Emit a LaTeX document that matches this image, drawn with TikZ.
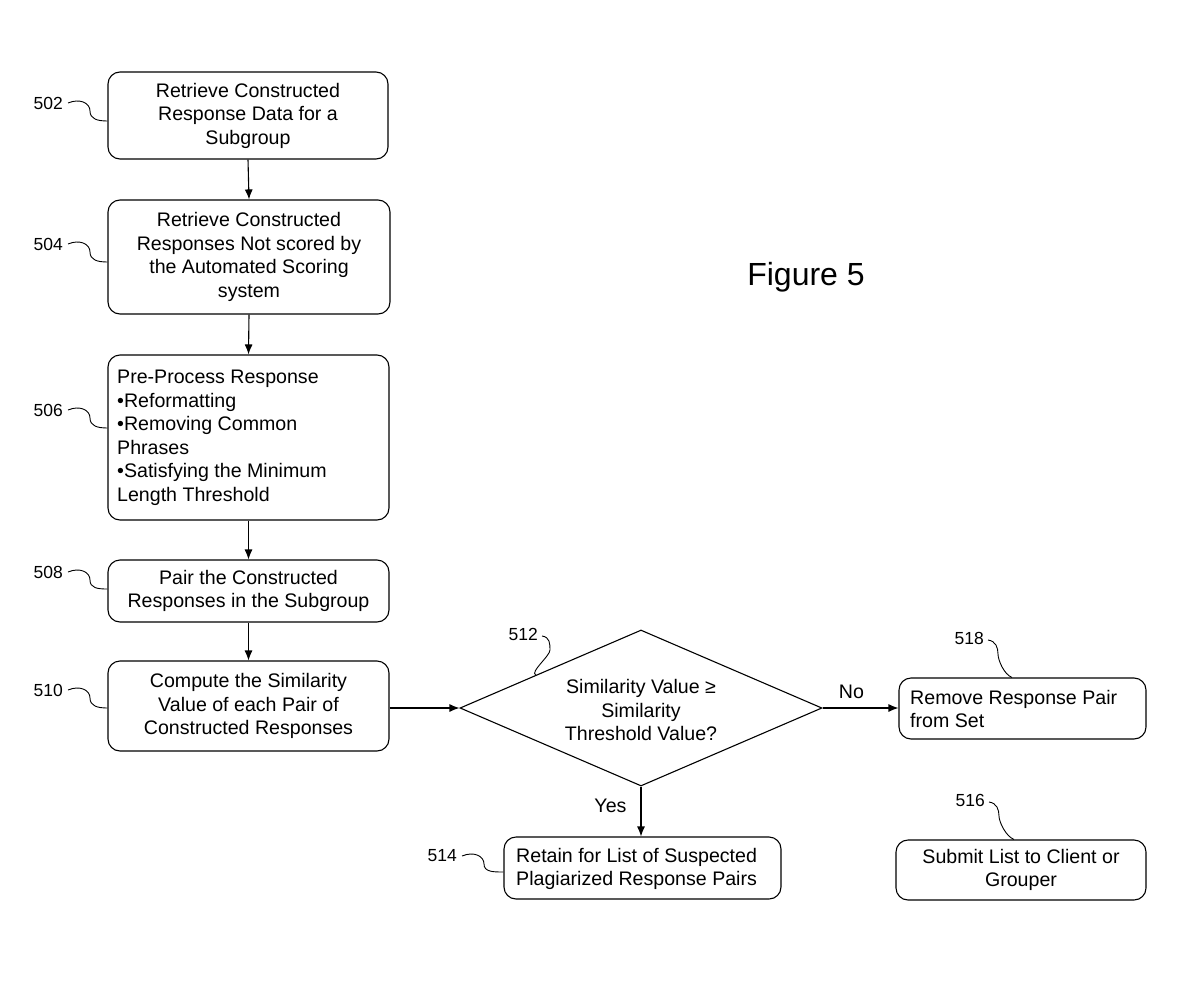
\documentclass[tikz,border=0pt]{standalone}
\usepackage{fontspec}
\setmainfont{Liberation Sans}
\usetikzlibrary{shapes.geometric,arrows.meta,calc}
\begin{document}
\begin{tikzpicture}[x=1pt,y=-1pt,
  font=\fontsize{19.6}{23.5}\selectfont,
  every node/.style={inner sep=0pt},
  box/.style={draw,rounded corners=12pt,line width=1.1pt},
  lab/.style={anchor=east,font=\fontsize{17.5}{21}\selectfont},
  lead/.style={line width=0.9pt},
  arr/.style={line width=1.1pt,-{Latex[length=10pt,width=8pt]}},
  dec/.style={draw,diamond,line width=1.1pt,minimum width=362pt,minimum height=156pt,inner sep=0pt}
]
\useasboundingbox (0,0) rectangle (1199,982);

% boxes
\node[box,minimum width=280pt,minimum height=87pt,align=center] (b502) at (248,115.5)
  {Retrieve Constructed\\Response Data for a\\Subgroup};
\node[box,minimum width=282pt,minimum height=114pt,align=center] (b504) at (249,257)
  {Retrieve Constructed\\Responses Not scored by\\the Automated Scoring\\system};
\node[box,minimum width=281pt,minimum height=165pt] (b506) at (248.5,437.5) {};
\node[anchor=west,align=left] (t506) at (117,438)
  {Pre-Process Response\\•Reformatting\\•Removing Common\\Phrases\\•Satisfying the Minimum\\Length Threshold};
\node[box,minimum width=281pt,minimum height=62pt,align=center] (b508) at (248.5,591)
  {Pair the Constructed\\Responses in the Subgroup};
\node[box,minimum width=281pt,minimum height=90pt,align=center] (b510) at (248.5,706)
  {Compute the Similarity\\Value of each Pair of\\Constructed Responses};
\node[dec] (d512) at (641,708) {};
\node[align=center] (t512) at (641,710) {Similarity Value ≥\\Similarity\\Threshold Value?};
\node[box,minimum width=247pt,minimum height=61pt] (b518) at (1022.5,708.5) {};
\node[anchor=west,align=left] (t518) at (910,709) {Remove Response Pair\\from Set};
\node[box,minimum width=250pt,minimum height=60pt,align=center] (b516) at (1021,870)
  {Submit List to Client or\\Grouper};
\node[box,minimum width=277pt,minimum height=62pt] (b514) at (642.5,868) {};
\node[anchor=west,align=left] (t514) at (516,869) {Retain for List of Suspected\\Plagiarized Response Pairs};

\node[font=\fontsize{32}{36}\selectfont] (fig) at (806,277) {Figure 5};

% reference labels
\node[lab] (l502) at (63,103) {502};
\node[lab] (l504) at (63,244) {504};
\node[lab] (l506) at (63,410) {506};
\node[lab] (l508) at (63,572) {508};
\node[lab] (l510) at (63,690) {510};
\node[lab] (l514) at (457,856) {514};
\node[lab] (l512) at (538,634) {512};
\node[lab] (l518) at (984,638) {518};
\node[lab] (l516) at (985,800) {516};

% left leaders
\foreach \l/\b/\y in {l502/b502/121, l504/b504/262, l506/b506/428, l508/b508/589, l510/b510/708, l514/b514/872}{
  \draw[lead] ([xshift=5pt]\l.east) .. controls +(12,-5) and +(0,-8) .. ++(22,8)
     .. controls +(0,8) and +(-10,0) .. (\b.west |- 0,\y);
}
% right leaders
\coordinate (e512) at ($(d512.west)!0.42!(d512.north)$);
\draw[lead] ([xshift=4pt,yshift=-2pt]l512.east) .. controls +(8,1) and +(0,-6) .. ++(8,14)
   .. controls +(0,6) and +(-6,-3) .. (e512);
\draw[lead] ([xshift=4pt,yshift=-2pt]l518.east) .. controls +(8,1) and +(0,-6) .. ++(10,14)
   .. controls +(0,6) and +(-8,-3) .. (b518.north -| 1012,0);
\draw[lead] ([xshift=4pt,yshift=-2pt]l516.east) .. controls +(8,1) and +(0,-6) .. ++(10,14)
   .. controls +(0,6) and +(-8,-3) .. (b516.north -| 1014,0);

% arrows
\draw[arr] (b502.south) -- (b504.north);
\draw[arr] (b504.south) -- (b506.north);
\draw[arr] (b506.south) -- (b508.north);
\draw[arr] (b508.south) -- (b510.north);
\draw[arr] (b510.east |- d512.west) -- (d512.west);
\draw[arr] (d512.east) -- node[above=9pt,pos=0.38] (no) {No} (b518.west |- d512.east);
\draw[arr] (d512.south) -- node[left=14pt,pos=0.38] (yes) {Yes} (b514.north -| d512.south);
\end{tikzpicture}
\end{document}
